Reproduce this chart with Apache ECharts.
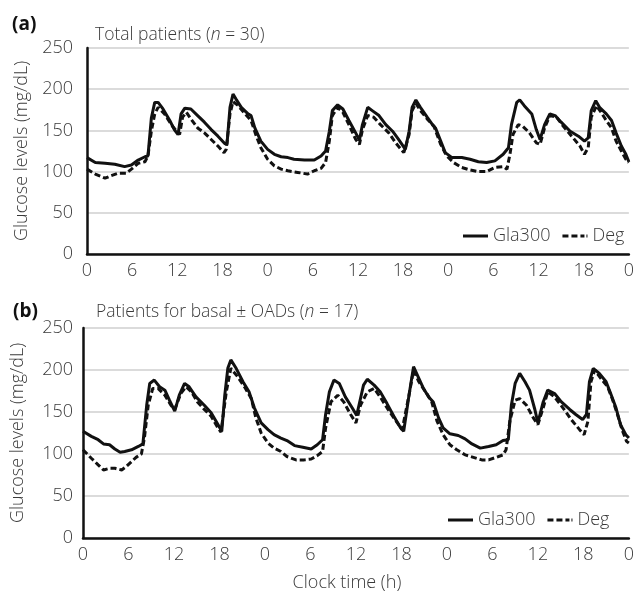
<!DOCTYPE html>
<html>
<head>
<meta charset="utf-8">
<script src="https://cdn.jsdelivr.net/npm/echarts@6/dist/echarts.min.js"></script>
<style>
  html, body { margin: 0; padding: 0; background: #fff; }
  #main { width: 637px; height: 595px; }
</style>
</head>
<body>
<div id="main"></div>
<script type="text/javascript">
  // [clock hour from start, glucose mg/dL]
  var glaA = [[0,117],[1.1,111],[2.4,110],[3.7,109],[5.0,106],[5.9,108],[6.8,114],[7.7,118],[8.1,119],[8.55,165],[9.0,184],[9.45,184],[10.1,176],[11.0,162],[11.6,151],[12.1,145],[12.5,170],[13.0,177],[13.8,176],[14.7,168],[15.6,160],[16.5,151],[17.4,143],[18.3,134],[18.6,133],[19.0,178],[19.4,194],[19.8,188],[20.5,178],[21.4,170],[21.8,168],[22.3,153],[23.1,137],[24.0,127],[24.9,121],[25.8,118],[26.7,117],[27.5,115],[28.9,114],[30.2,114],[31.1,119],[31.7,125],[32.2,149],[32.6,174],[33.3,181],[34.0,176],[34.8,162],[35.7,147],[36.2,138],[36.6,157],[37.3,178],[37.9,174],[38.8,168],[39.7,157],[40.6,149],[41.4,139],[42.3,127],[42.8,149],[43.2,178],[43.7,187],[44.3,178],[45.2,166],[45.9,157],[46.3,153],[47.0,137],[47.6,123],[48.5,117],[49.8,117],[50.9,115],[52.0,112],[53.1,111],[54.2,113],[55.3,121],[56.0,129],[56.4,157],[57.1,184],[57.5,187],[58.1,180],[59.1,170],[59.7,151],[60.2,139],[60.8,157],[61.5,170],[62.2,168],[63.0,160],[64.2,149],[65.3,143],[66.1,137],[66.6,141],[67.0,174],[67.6,186],[68.1,178],[69.0,170],[69.7,162],[70.3,147],[71.0,131],[71.6,121],[72,112]];
  var degA = [[0,103],[1.1,97],[2.4,92],[3.2,95],[4.1,98],[5.2,98],[5.9,103],[6.8,110],[7.7,112],[8.1,119],[8.55,149],[9.0,170],[9.45,178],[10.3,170],[11.2,157],[11.9,149],[12.3,145],[12.7,166],[13.2,172],[13.8,164],[14.7,153],[15.6,147],[16.5,139],[17.4,131],[18.2,123],[18.5,127],[19.0,170],[19.4,185],[20.1,180],[21.0,170],[21.8,162],[22.5,143],[23.1,129],[24.0,115],[24.9,107],[25.8,103],[26.7,101],[28.0,99],[29.3,97],[30.2,101],[31.1,104],[31.7,111],[32.2,137],[32.6,168],[33.3,178],[34.0,172],[34.8,157],[35.7,139],[36.2,133],[36.6,151],[37.3,168],[38.1,166],[39.0,157],[40.1,147],[41.0,135],[42.1,123],[42.8,145],[43.2,174],[43.7,183],[44.3,174],[45.2,164],[46.1,155],[47.0,133],[47.8,119],[48.7,111],[49.8,105],[50.9,102],[52.0,100],[53.1,100],[54.2,105],[55.3,106],[55.8,103],[56.2,121],[56.6,145],[57.3,157],[57.9,155],[58.8,147],[59.7,135],[60.2,133],[60.8,153],[61.5,168],[62.4,166],[63.3,155],[64.4,143],[65.5,131],[66.1,121],[66.6,129],[67.0,166],[67.7,180],[68.3,172],[69.0,162],[69.7,153],[70.3,137],[71.0,125],[71.6,115],[72,111]];
  var glaB = [[0,127],[1.1,121],[2.0,117],[2.7,112],[3.5,111],[4.2,106],[4.9,102],[5.5,103],[6.4,105],[7.3,109],[7.9,112],[8.4,158],[8.8,184],[9.4,188],[10.1,180],[10.8,176],[11.4,164],[12.1,151],[12.7,170],[13.4,184],[14.0,180],[14.9,168],[16.0,158],[16.9,149],[17.8,135],[18.3,127],[18.7,170],[19.1,202],[19.5,212],[20.2,202],[21.1,186],[21.9,174],[22.6,155],[23.5,137],[24.4,129],[25.2,123],[26.1,119],[26.9,116],[27.9,110],[29.0,108],[30.1,106],[30.9,111],[31.6,117],[32.0,147],[32.5,174],[33.1,188],[33.8,184],[34.6,168],[35.5,155],[36.1,146],[36.4,158],[37.0,182],[37.5,189],[38.4,182],[39.2,174],[40.1,160],[41.0,145],[41.9,131],[42.3,127],[43.0,170],[43.6,204],[44.3,190],[44.9,178],[45.6,168],[46.2,162],[46.9,143],[47.5,131],[48.4,124],[49.5,122],[50.4,118],[51.3,112],[52.4,107],[53.5,109],[54.5,111],[55.4,116],[56.1,117],[56.5,158],[57.0,184],[57.6,196],[58.3,186],[58.9,176],[59.6,153],[60.0,137],[60.7,162],[61.3,176],[62.2,172],[63.1,162],[64.2,153],[65.0,147],[65.9,141],[66.4,147],[66.8,186],[67.3,202],[68.1,196],[69.0,186],[69.6,172],[70.3,155],[70.9,135],[71.6,123],[72,119]];
  var degB = [[0,105],[1.1,95],[2.0,87],[2.7,81],[3.5,83],[4.2,83],[5.1,81],[5.7,85],[6.4,91],[7.0,96],[7.7,100],[8.1,119],[8.6,158],[9.2,178],[9.9,178],[10.8,170],[11.6,158],[12.1,153],[12.9,172],[13.6,180],[14.3,174],[15.1,162],[16.0,153],[16.9,145],[17.8,131],[18.2,126],[18.9,174],[19.5,202],[20.4,192],[21.3,180],[22.2,166],[22.8,143],[23.5,125],[24.4,113],[25.2,107],[26.1,103],[26.9,97],[28.1,93],[29.2,93],[30.1,94],[30.9,98],[31.6,103],[32.0,131],[32.7,162],[33.6,170],[34.4,162],[35.3,147],[36.0,137],[36.6,158],[37.5,174],[38.4,178],[39.2,168],[40.1,155],[41.0,143],[42.1,129],[43.0,170],[43.6,200],[44.3,186],[45.2,174],[46.0,162],[46.7,139],[47.5,123],[48.4,111],[49.3,105],[50.4,99],[51.5,96],[52.6,93],[53.5,93],[54.5,96],[55.4,99],[55.8,105],[56.3,139],[57.0,164],[57.6,166],[58.5,158],[59.4,143],[60.0,135],[60.7,155],[61.3,174],[62.2,168],[63.3,155],[64.4,141],[65.5,129],[66.1,123],[66.6,139],[67.0,186],[67.5,200],[68.3,190],[69.2,180],[69.8,166],[70.5,147],[71.1,129],[71.7,115],[72,113]];
  var seriesNames = ['Gla300', 'Deg'];

  var FONT = '"Open Sans", "Noto Sans", sans-serif';
  var TXT = '#3a3a3a';
  var myChart = echarts.init(document.getElementById('main'));

  function xAx(grid, name) {
    return {
      type: 'value', gridIndex: grid, min: 0, max: 72, interval: 6,
      name: name, nameLocation: 'middle', nameGap: 36,
      nameTextStyle: {fontFamily: FONT, fontSize: 18, fontWeight: 300, color: TXT, padding: [0, 18, 0, 0]},
      axisLine: {lineStyle: {color: '#111', width: 2.5}},
      axisTick: {show: false},
      splitLine: {show: false},
      axisLabel: {
        margin: 8, fontFamily: FONT, fontSize: 18, fontWeight: 300, color: TXT,
        formatter: function (v) { return String(v % 24); }
      }
    };
  }
  function yAx(grid, margin) {
    return {
      type: 'value', gridIndex: grid, min: 0, max: 250, interval: 50,
      name: 'Glucose levels (mg/dL)', nameLocation: 'middle', nameGap: 56,
      nameTextStyle: {fontFamily: FONT, fontSize: 18, fontWeight: 300, color: TXT},
      axisLine: {show: true, lineStyle: {color: '#111', width: 2.5}},
      axisTick: {show: false},
      splitLine: {lineStyle: {color: '#cfcfcf', width: 1.5}},
      axisLabel: {margin: margin, fontFamily: FONT, fontSize: 18, fontWeight: 300, color: TXT}
    };
  }
  function line(name, data, idx, dashed) {
    return {
      name: name, type: 'line', xAxisIndex: idx, yAxisIndex: idx,
      data: data, symbol: 'none', smooth: false,
      lineStyle: {color: '#111', width: 3, type: dashed ? [6, 3] : 'solid'},
      itemStyle: {color: '#111'}
    };
  }
  function leg(left, top) {
    return {
      data: [
        {name: seriesNames[0], icon: 'path://M0,0H25V3H0Z'},
        {name: seriesNames[1], icon: 'path://M0,0H6V3H0Z M9,0H15V3H9Z M18,0H22V3H18Z M24,0H25V3H24Z'}
      ],
      left: left, top: top, padding: 0,
      itemWidth: 25, itemHeight: 3, itemGap: 12,
      itemStyle: {color: '#111', borderWidth: 0},
      textStyle: {fontFamily: FONT, fontSize: 18, fontWeight: 300, color: TXT}
    };
  }

  var option = {
    animation: false,
    backgroundColor: '#fff',
    title: [
      {text: '(a)', left: 7, top: 10, textStyle: {fontFamily: FONT, fontSize: 19, fontWeight: 'bold', color: '#111'}},
      {text: 'Total patients ({i|n} = 30)', left: 90, top: 21,
        textStyle: {fontFamily: FONT, fontSize: 17.5, fontWeight: 300, color: TXT,
          rich: {i: {fontFamily: FONT, fontSize: 17.5, fontStyle: 'italic', fontWeight: 300, color: TXT}}}},
      {text: '(b)', left: 8, top: 297, textStyle: {fontFamily: FONT, fontSize: 19, fontWeight: 'bold', color: '#111'}},
      {text: 'Patients for basal ± OADs ({i|n} = 17)', left: 91, top: 298,
        textStyle: {fontFamily: FONT, fontSize: 17.5, fontWeight: 300, color: TXT,
          rich: {i: {fontFamily: FONT, fontSize: 17.5, fontStyle: 'italic', fontWeight: 300, color: TXT}}}}
    ],
    legend: [leg(463, 227), leg(448, 511)],
    grid: [
      {left: 87, right: 5, top: 48, height: 206},
      {left: 83, right: 5, top: 328, height: 210}
    ],
    xAxis: [xAx(0, ''), xAx(1, 'Clock time (h)')],
    yAxis: [yAx(0, 14), yAx(1, 10)],
    series: [
      line('Gla300', glaA, 0, false),
      line('Deg', degA, 0, true),
      line('Gla300', glaB, 1, false),
      line('Deg', degB, 1, true)
    ]
  };
  myChart.setOption(option);
</script>
</body>
</html>
